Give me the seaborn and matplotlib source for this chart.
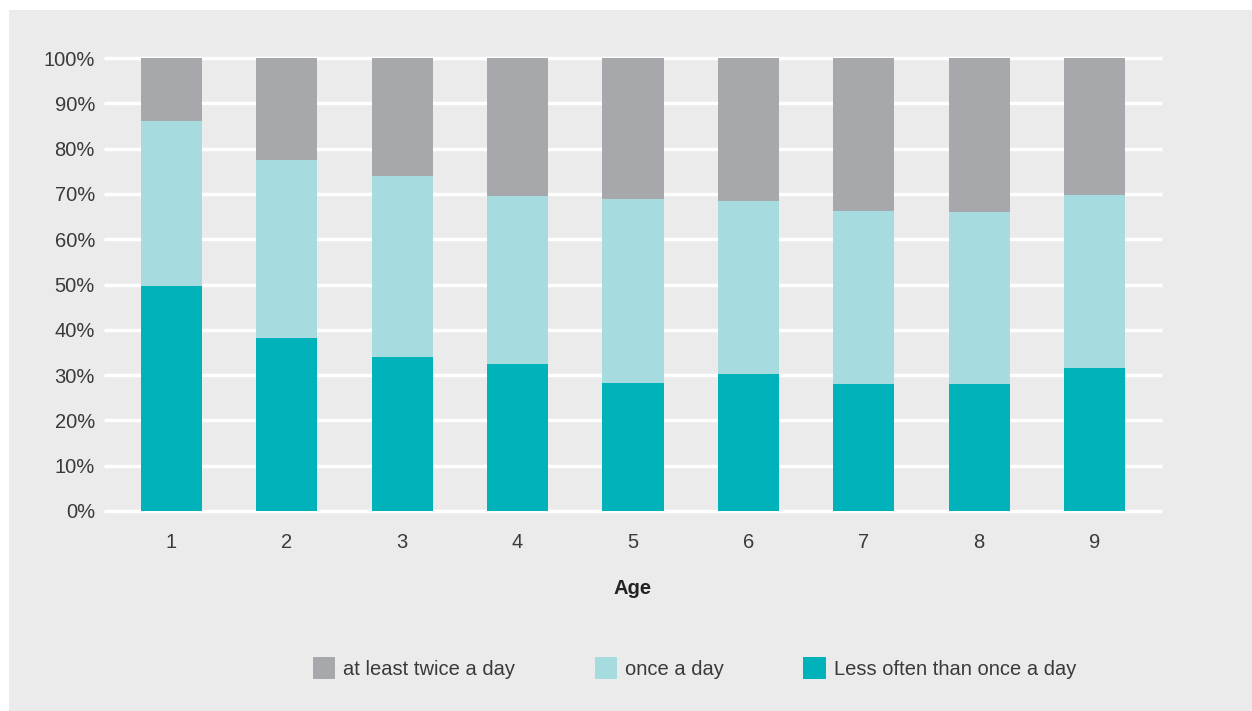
import matplotlib
matplotlib.use("Agg")
import matplotlib.pyplot as plt
from matplotlib.patches import Patch, Rectangle
import numpy as np
import seaborn as sns

# Share of children by brushing frequency, per age (percent)
ages = ["1", "2", "3", "4", "5", "6", "7", "8", "9"]
less_than_once = [49.7, 38.2, 34.0, 32.5, 28.3, 30.2, 28.0, 28.0, 31.6]
once_a_day = [36.4, 39.3, 40.0, 37.0, 40.6, 38.2, 38.2, 38.0, 38.2]
twice_a_day = [13.9, 22.5, 26.0, 30.5, 31.1, 31.6, 33.8, 34.0, 30.2]
series_labels = ["at least twice a day", "once a day", "Less often than once a day"]
ytick_values = list(range(0, 101, 10))

c_twice = "#a7a8ac"
c_once = "#a6dbdf"
c_less = "#00b3ba"
bg = "#eaebea"
txt = "#3a3a3a"

sns.set_theme(style="white")
plt.rcParams["font.family"] = ["Liberation Sans", "DejaVu Sans"]

fig = plt.figure(figsize=(12.52, 7.11), dpi=100)
fig.patch.set_facecolor("white")
panel = Rectangle((9 / 1252, 0), 1 - 9 / 1252, 1 - 10 / 711,
                  transform=fig.transFigure, facecolor=bg,
                  edgecolor="none", zorder=-10)
fig.patches.append(panel)

ax = fig.add_axes([104 / 1252, 1 - 511 / 711, (1162 - 104) / 1252, (511 - 58) / 711])
ax.set_zorder(1)
ax.patch.set_alpha(0)

less = np.array(less_than_once)
mid_top = less + np.array(once_a_day)
top = mid_top + np.array(twice_a_day)

# Stacked bars drawn as overlapping cumulative totals
sns.barplot(x=ages, y=top, color=c_twice, width=0.53, saturation=1, ax=ax, zorder=3)
sns.barplot(x=ages, y=mid_top, color=c_once, width=0.53, saturation=1, ax=ax, zorder=4)
sns.barplot(x=ages, y=less, color=c_less, width=0.53, saturation=1, ax=ax, zorder=5)
for p in ax.patches:
    p.set_edgecolor("none")

ax.set_xlim(-0.585, 8.585)
ax.set_ylim(0, 100)
ax.set_yticks(ytick_values)
ax.set_yticklabels([f"{v}%" for v in ytick_values])
ax.yaxis.grid(True, color="white", linewidth=2.5)
ax.xaxis.grid(False)
ax.set_axisbelow(True)
for gl in ax.get_ygridlines():
    gl.set_clip_on(False)
    gl.set_solid_capstyle("butt")
for s in ax.spines.values():
    s.set_visible(False)

ax.tick_params(axis="y", length=0, pad=6.5, labelsize=14.5, labelcolor=txt)
ax.tick_params(axis="x", length=0, pad=16, labelsize=14.5, labelcolor=txt)
ax.set_ylabel("")
ax.set_xlabel("Age", fontsize=14.5, fontweight="bold", color="#222222", labelpad=19)

handles = [Patch(facecolor=c, edgecolor="none") for c in (c_twice, c_once, c_less)]
fig.legend(handles, series_labels, loc="center left",
           bbox_to_anchor=(313 / 1252, 1 - 668 / 711), ncol=3, frameon=False,
           fontsize=14.5, labelcolor=txt, handlelength=1.1, handleheight=1.3,
           handletextpad=0.4, columnspacing=3.95, borderpad=0, borderaxespad=0)

fig.savefig("out.png", dpi=100, facecolor=fig.get_facecolor())
